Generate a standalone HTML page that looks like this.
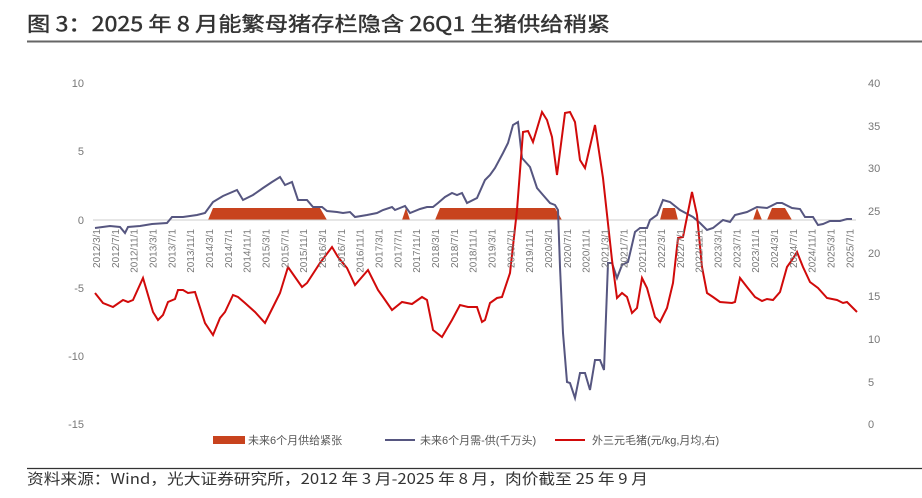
<!DOCTYPE html>
<html><head><meta charset="utf-8"><style>
body{margin:0;background:#fff;}
svg{display:block;font-family:"Liberation Sans","Noto Sans CJK SC",sans-serif;}
</style></head><body>
<svg width="922" height="498" viewBox="0 0 922 498">
<text x="27" y="31" font-size="20" fill="#333" stroke="#333" stroke-width="0.4" textLength="583" lengthAdjust="spacingAndGlyphs" style="font-family:'Noto Sans CJK SC',sans-serif">图 3：2025 年 8 月能繁母猪存栏隐含 26Q1 生猪供给稍紧</text>
<line x1="27" y1="41.5" x2="922" y2="41.5" stroke="#666" stroke-width="2"/>
<line x1="27" y1="468.5" x2="922" y2="468.5" stroke="#333" stroke-width="1.2"/>
<text x="27" y="484" font-size="15" fill="#333" textLength="621" lengthAdjust="spacingAndGlyphs" style="font-family:'Noto Sans CJK SC',sans-serif">资料来源：Wind，光大证券研究所，2012 年 3 月-2025 年 8 月，肉价截至 25 年 9 月</text>

<g font-size="11" fill="#777" text-anchor="end">
<text x="84" y="87">10</text><text x="84" y="155">5</text><text x="84" y="224">0</text>
<text x="84" y="292">-5</text><text x="84" y="360">-10</text><text x="84" y="428">-15</text>
</g>
<g font-size="11" fill="#777" text-anchor="start">
<text x="868" y="87">40</text><text x="868" y="130">35</text><text x="868" y="172">30</text>
<text x="868" y="215">25</text><text x="868" y="257">20</text><text x="868" y="300">15</text>
<text x="868" y="343">10</text><text x="868" y="386">5</text><text x="868" y="428">0</text>
</g>

<g fill="#C8431E">
<polygon points="208,220 213,208 320,208 327,220"/>
<polygon points="402,220 406,208 410,220"/>
<polygon points="435,220 440,208 555,208 562,220"/>
<polygon points="660,220 663,208 675,208 678,220"/>
<polygon points="753,220 757,208 762,220"/>
<polygon points="767,220 772,208 785,208 792,220"/>
</g>
<line x1="93" y1="220" x2="856" y2="220" stroke="#ccc" stroke-width="1"/>

<polyline fill="none" stroke="#565680" stroke-width="2" points="95,228 110,226 120,227 125,233 128,227 140,226 152,224 167,223 172,217 183,217 197,215 205,213 213,202 223,196 237,190 243,200 253,195 263,188 272,182 280,177 285,185 292,182 298,200 307,200 313,207 322,207 327,211 337,212 343,213 350,212 355,217 367,215 377,213 383,210 392,207 395,210 405,206 410,213 420,209 427,207 433,207 438,203 445,197 452,193 457,195 462,193 467,203 477,198 485,180 490,175 495,168 503,153 508,143 513,125 518,122 522,158 530,167 537,188 543,195 550,203 555,205 558,210 560,267 563,333 567,382 570,383 575,398 580,373 585,373 590,390 595,360 600,360 604,370 608,263 612,263 617,278 622,265 628,262 635,232 640,228 647,228 650,220 657,215 663,200 670,202 680,210 693,217 700,223 707,230 713,228 723,220 730,222 735,215 747,212 757,207 767,208 777,203 782,203 792,208 800,209 805,217 813,217 818,225 823,224 830,221 840,221 847,219 852,219"/>

<polyline fill="none" stroke="#D10A0A" stroke-width="2" points="95,293 103,303 113,307 123,300 128,302 133,300 143,278 153,312 158,320 163,315 168,302 175,299 178,290 183,290 188,293 195,292 205,323 213,335 220,318 225,312 233,295 238,297 245,303 255,312 265,323 273,307 280,293 288,267 302,287 307,283 320,263 332,247 338,257 347,268 355,285 368,270 378,290 383,297 392,310 402,302 412,304 422,297 427,300 433,330 442,337 452,320 460,305 468,307 477,307 482,322 485,320 490,303 497,298 502,297 510,273 517,210 523,132 528,131 533,142 542,112 547,120 552,137 557,175 565,113 570,112 575,122 580,160 585,168 595,125 603,178 612,260 617,298 622,293 627,297 632,313 637,308 642,278 647,288 655,317 660,322 667,308 673,283 678,238 683,237 692,192 697,215 702,267 707,293 713,297 720,302 732,303 735,302 740,278 747,287 755,297 762,301 767,299 773,300 780,292 787,267 792,260 797,252 803,267 810,282 818,288 827,298 837,300 843,303 847,302 857,312"/>

<g font-size="10" fill="#777" text-anchor="end">
<text transform="translate(100,229) rotate(-90)">2012/3/1</text>
<text transform="translate(118.8,229) rotate(-90)">2012/7/1</text>
<text transform="translate(137.7,229) rotate(-90)">2012/11/1</text>
<text transform="translate(156.5,229) rotate(-90)">2013/3/1</text>
<text transform="translate(175.3,229) rotate(-90)">2013/7/1</text>
<text transform="translate(194.2,229) rotate(-90)">2013/11/1</text>
<text transform="translate(213,229) rotate(-90)">2014/3/1</text>
<text transform="translate(231.8,229) rotate(-90)">2014/7/1</text>
<text transform="translate(250.6,229) rotate(-90)">2014/11/1</text>
<text transform="translate(269.5,229) rotate(-90)">2015/3/1</text>
<text transform="translate(288.3,229) rotate(-90)">2015/7/1</text>
<text transform="translate(307.1,229) rotate(-90)">2015/11/1</text>
<text transform="translate(326,229) rotate(-90)">2016/3/1</text>
<text transform="translate(344.8,229) rotate(-90)">2016/7/1</text>
<text transform="translate(363.6,229) rotate(-90)">2016/11/1</text>
<text transform="translate(382.5,229) rotate(-90)">2017/3/1</text>
<text transform="translate(401.3,229) rotate(-90)">2017/7/1</text>
<text transform="translate(420.1,229) rotate(-90)">2017/11/1</text>
<text transform="translate(439,229) rotate(-90)">2018/3/1</text>
<text transform="translate(457.8,229) rotate(-90)">2018/7/1</text>
<text transform="translate(476.6,229) rotate(-90)">2018/11/1</text>
<text transform="translate(495.4,229) rotate(-90)">2019/3/1</text>
<text transform="translate(514.3,229) rotate(-90)">2019/7/1</text>
<text transform="translate(533.1,229) rotate(-90)">2019/11/1</text>
<text transform="translate(552,229) rotate(-90)">2020/3/1</text>
<text transform="translate(570.8,229) rotate(-90)">2020/7/1</text>
<text transform="translate(589.6,229) rotate(-90)">2020/11/1</text>
<text transform="translate(608.4,229) rotate(-90)">2021/3/1</text>
<text transform="translate(627.3,229) rotate(-90)">2021/7/1</text>
<text transform="translate(646.1,229) rotate(-90)">2021/11/1</text>
<text transform="translate(664.9,229) rotate(-90)">2022/3/1</text>
<text transform="translate(683.8,229) rotate(-90)">2022/7/1</text>
<text transform="translate(702.6,229) rotate(-90)">2022/11/1</text>
<text transform="translate(721.4,229) rotate(-90)">2023/3/1</text>
<text transform="translate(740.3,229) rotate(-90)">2023/7/1</text>
<text transform="translate(759.1,229) rotate(-90)">2023/11/1</text>
<text transform="translate(777.9,229) rotate(-90)">2024/3/1</text>
<text transform="translate(796.8,229) rotate(-90)">2024/7/1</text>
<text transform="translate(815.6,229) rotate(-90)">2024/11/1</text>
<text transform="translate(834.4,229) rotate(-90)">2025/3/1</text>
<text transform="translate(853.3,229) rotate(-90)">2025/7/1</text>
</g>

<rect x="213" y="436" width="32" height="8" fill="#C8431E"/>
<text x="248" y="444" font-size="11" fill="#555">未来6个月供给紧张</text>
<line x1="385" y1="440" x2="415" y2="440" stroke="#565680" stroke-width="2"/>
<text x="420" y="444" font-size="11" fill="#555">未来6个月需-供(千万头)</text>
<line x1="555" y1="440" x2="585" y2="440" stroke="#D10A0A" stroke-width="2"/>
<text x="592" y="444" font-size="11" fill="#555">外三元毛猪(元/kg,月均,右)</text>
</svg>
</body></html>
